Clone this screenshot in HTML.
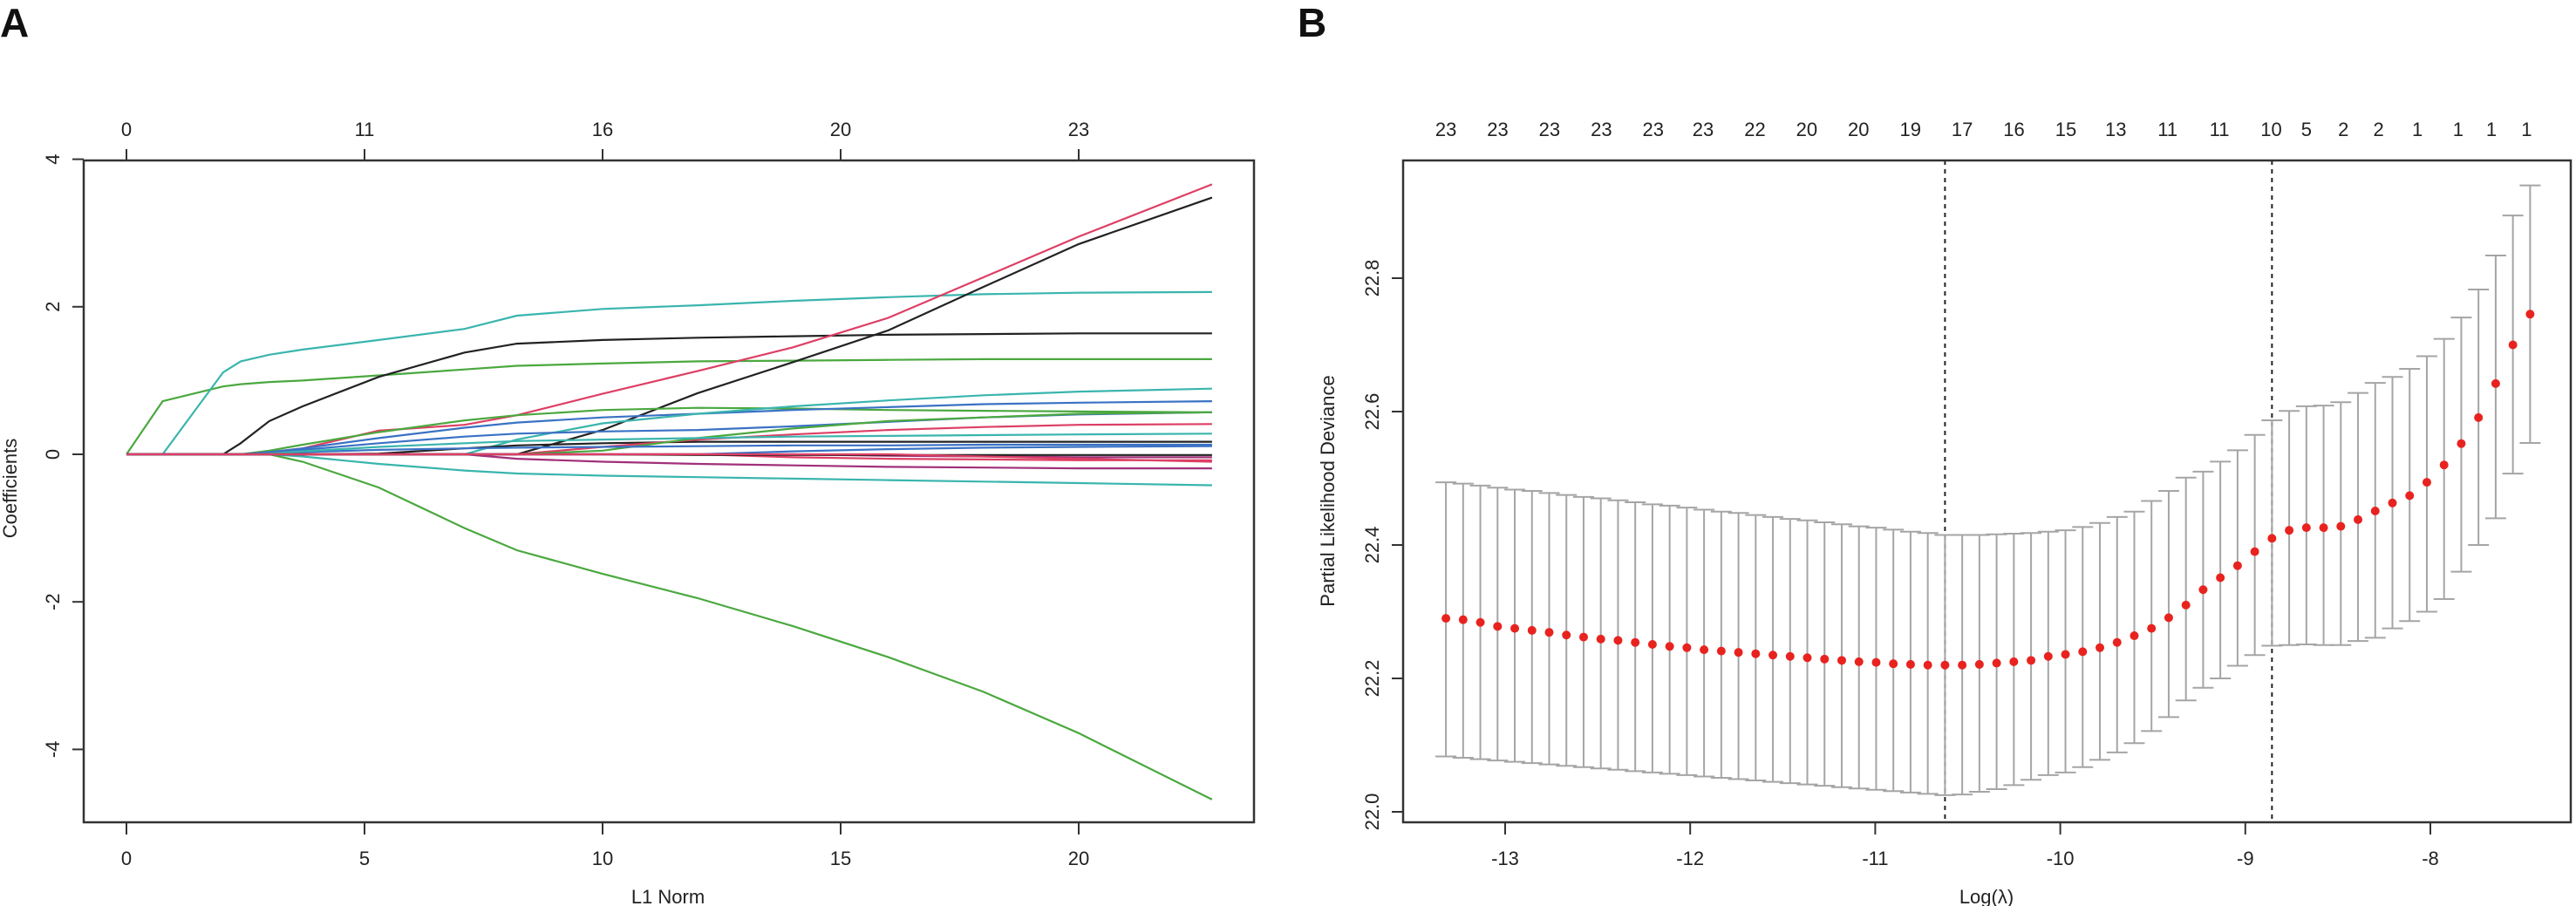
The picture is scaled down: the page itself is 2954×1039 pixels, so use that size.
<!DOCTYPE html>
<html><head><meta charset="utf-8">
<style>
html,body{margin:0;padding:0;background:#fff;}
svg{display:block;}
text{font-family:"Liberation Sans",Arial,sans-serif;fill:#222;}
</style></head>
<body>
<svg id="fig" width="2954" height="1039" viewBox="0 0 2954 1039" xmlns="http://www.w3.org/2000/svg">
<rect x="0" y="0" width="2954" height="1039" fill="#fff"/>
<text x="0" y="42" font-size="46" font-weight="bold" style="fill:#111">A</text>
<text x="1488" y="42" font-size="46" font-weight="bold" style="fill:#111">B</text>
<g id="panelA"></g>
<g id="panelB"></g>
</svg>
<script>
// ---------- Panel A data ----------
const knotsL1 = [0,0.76,2.03,2.4,3,3.7,5.3,7.1,8.2,10,12,14,16,18,20,22.8];
const xTicksA = [0,5,10,15,20];
const topTicksA = ["0","11","16","20","23"];
const yTicksA = [-4,-2,0,2,4];
const s1 = [0,0.72,0.92,0.95,0.98,1.0,1.07,1.15,1.2,1.23,1.26,1.27,1.28,1.29,1.29,1.29];
const s2 = [0,0,1.11,1.26,1.35,1.42,1.55,1.7,1.88,1.97,2.02,2.08,2.13,2.17,2.19,2.2];
const s3 = [0,0,0,0.15,0.45,0.65,1.05,1.38,1.5,1.55,1.58,1.6,1.62,1.63,1.64,1.64];
const s4 = [0,0,0,0,0,-0.1,-0.45,-1.0,-1.3,-1.62,-1.95,-2.33,-2.75,-3.22,-3.78,-4.68];
const s5 = [0,0,0,0,0.03,0.08,0.32,0.4,0.53,0.82,1.13,1.45,1.85,2.4,2.95,3.66];
const s6 = [0,0,0,0,0,0,0,0,0,0.33,0.83,1.25,1.68,2.27,2.85,3.48];
const s7 = [0,0,0,0,0.05,0.13,0.3,0.46,0.53,0.6,0.63,0.62,0.6,0.59,0.58,0.57];
const s8 = [0,0,0,0,0.03,0.08,0.22,0.36,0.43,0.5,0.55,0.6,0.64,0.68,0.7,0.72];
const s9 = [0,0,0,0,0,0,0,0,0.2,0.42,0.55,0.65,0.73,0.8,0.85,0.89];
const s10 = [0,0,0,0,0.02,0.06,0.15,0.24,0.28,0.31,0.33,0.38,0.44,0.5,0.54,0.57];
const s11 = [0,0,0,0,0,0,0.01,0.08,0.12,0.15,0.17,0.17,0.17,0.17,0.17,0.17];
const s12 = [0,0,0,0,0,0,0,0,0,0.1,0.2,0.27,0.33,0.37,0.4,0.41];
const s13 = [0,0,0,0,0,0,0,0,0,0.05,0.22,0.35,0.45,0.5,0.55,0.57];
const s14 = [0,0,0,0,0,0,0,0,-0.06,-0.1,-0.13,-0.15,-0.17,-0.18,-0.19,-0.19];
const s15 = [0,0,0,0,0,-0.03,-0.13,-0.22,-0.26,-0.29,-0.31,-0.33,-0.35,-0.37,-0.39,-0.42];
const s16 = [0,0,0,0,0.01,0.03,0.06,0.08,0.09,0.1,0.11,0.12,0.12,0.13,0.13,0.13];
const s17 = [0,0,0,0,0,0,0,0,0,0,0,0.04,0.07,0.09,0.1,0.11];
const s18 = [0,0,0,0,0.01,0.04,0.1,0.15,0.18,0.2,0.22,0.24,0.25,0.26,0.27,0.28];
const s19 = [0,0,0,0,0,0,0,0,0,0,0,-0.04,-0.06,-0.07,-0.08,-0.08];
const s20 = [0,0,0,0,0,0,0,0,0,0,0,0,-0.02,-0.03,-0.04,-0.04];
const s21 = [0,0,0,0,0,0,0,0,0,0,-0.01,-0.01,-0.01,-0.01,-0.01,-0.01];
const s22 = [0,0,0,0,0,0,0,0,0,0,0,0,0,-0.03,-0.06,-0.1];
const seriesA = [s1,s2,s3,s4,s5,s6,s7,s8,s9,s10,s11,s12,s13,s14,s15,s16,s17,s18,s19,s20,s21,s22];
const colorsA = ["#4ba83f","#3ab5ad","#222","#4ba83f","#dd3f64","#222","#4ba83f","#3a72c4","#3ab5ad","#3a72c4","#222","#dd3f64","#4ba83f","#a0307a","#3ab5ad","#3a72c4","#3a72c4","#3ab5ad","#dd3f64","#a0307a","#222","#dd3f64"];

// ---------- Panel B data ----------
const logLambda = [-13.32,-13.227,-13.134,-13.041,-12.948,-12.855,-12.762,-12.669,-12.576,-12.483,-12.39,-12.297,-12.204,-12.111,-12.018,-11.925,-11.832,-11.739,-11.646,-11.553,-11.46,-11.367,-11.274,-11.181,-11.088,-10.995,-10.902,-10.809,-10.716,-10.623,-10.53,-10.437,-10.344,-10.251,-10.158,-10.065,-9.972,-9.879,-9.786,-9.693,-9.6,-9.507,-9.414,-9.321,-9.228,-9.135,-9.042,-8.949,-8.856,-8.763,-8.67,-8.577,-8.484,-8.391,-8.298,-8.205,-8.112,-8.019,-7.926,-7.833,-7.74,-7.647,-7.554,-7.461];
const cvMean = [22.290,22.288,22.284,22.278,22.275,22.272,22.269,22.265,22.262,22.259,22.257,22.254,22.251,22.248,22.246,22.243,22.241,22.239,22.237,22.235,22.233,22.231,22.229,22.227,22.225,22.224,22.222,22.221,22.220,22.220,22.220,22.221,22.223,22.225,22.227,22.233,22.236,22.240,22.246,22.254,22.264,22.275,22.291,22.310,22.333,22.351,22.369,22.390,22.410,22.422,22.426,22.426,22.428,22.438,22.451,22.463,22.474,22.494,22.520,22.552,22.591,22.642,22.700,22.746];
const cvUp = [22.494,22.492,22.489,22.486,22.483,22.481,22.478,22.475,22.472,22.470,22.467,22.464,22.461,22.459,22.456,22.453,22.450,22.448,22.445,22.442,22.439,22.437,22.434,22.431,22.428,22.426,22.423,22.420,22.418,22.415,22.415,22.415,22.416,22.417,22.418,22.420,22.422,22.427,22.433,22.442,22.450,22.466,22.481,22.501,22.510,22.525,22.542,22.565,22.587,22.601,22.608,22.609,22.614,22.628,22.643,22.652,22.664,22.683,22.709,22.741,22.783,22.834,22.894,22.939];
const cvLo = [22.083,22.081,22.079,22.077,22.075,22.073,22.071,22.069,22.067,22.065,22.063,22.061,22.059,22.057,22.055,22.053,22.051,22.049,22.047,22.045,22.043,22.041,22.039,22.037,22.035,22.033,22.031,22.029,22.027,22.025,22.026,22.030,22.034,22.040,22.048,22.055,22.059,22.067,22.078,22.089,22.103,22.121,22.142,22.167,22.186,22.200,22.219,22.235,22.249,22.250,22.251,22.250,22.250,22.256,22.261,22.275,22.286,22.300,22.319,22.360,22.400,22.440,22.507,22.553];
const topLabelsB = ["23","23","23","23","23","23","22","20","20","19","17","16","15","13","11","11","10","5","2","2","1","1","1","1"];
const topPosB = [-13.32,-13.04,-12.76,-12.48,-12.20,-11.93,-11.65,-11.37,-11.09,-10.81,-10.53,-10.25,-9.97,-9.70,-9.42,-9.14,-8.86,-8.67,-8.47,-8.28,-8.07,-7.85,-7.67,-7.48];
const xTicksB = [-13,-12,-11,-10,-9,-8];
const yTicksB = [22.0,22.2,22.4,22.6,22.8];
const vlinesB = [-10.623,-8.856];

const NS = "http://www.w3.org/2000/svg";
function mk(parent, tag, attrs){ const e=document.createElementNS(NS,tag); for(const k in attrs) e.setAttribute(k,attrs[k]); parent.appendChild(e); return e; }

// ---------- Panel A ----------
(function(){
  const g = document.getElementById('panelA');
  const L=96,R=1438,T=184,B=943;
  const xA = v => 145 + 54.6*v;
  const yA = v => 521 - 84.6*v;
  seriesA.forEach((s,i)=>{
    const d = s.map((v,j)=>(j?'L':'M')+xA(knotsL1[j]).toFixed(1)+' '+yA(v).toFixed(1)).join(' ');
    const p = mk(g,'path',{d:d,fill:'none',stroke:colorsA[i],'stroke-width':2.2});
    
    
  });
  const box = mk(g,'rect',{x:L,y:T,width:R-L,height:B-T,fill:'none',stroke:'#333','stroke-width':2.5});
   
  xTicksA.forEach((v,i)=>{
    mk(g,'line',{x1:xA(v),x2:xA(v),y1:B,y2:B+14,stroke:'#333','stroke-width':2});
    const t=mk(g,'text',{x:xA(v),y:992,'font-size':22,'text-anchor':'middle'}); t.textContent=v;
     
    mk(g,'line',{x1:xA(v),x2:xA(v),y1:T,y2:T-13,stroke:'#333','stroke-width':2});
    const u=mk(g,'text',{x:xA(v),y:156,'font-size':22,'text-anchor':'middle'}); u.textContent=topTicksA[i];
     
  });
  yTicksA.forEach(v=>{
    mk(g,'line',{x1:L,x2:L-13,y1:yA(v),y2:yA(v),stroke:'#333','stroke-width':2});
    const t=mk(g,'text',{x:0,y:0,'font-size':22,'text-anchor':'middle',transform:`translate(68,${yA(v)}) rotate(-90)`}); t.textContent=v;
     
  });
  const xl=mk(g,'text',{x:766,y:1036,'font-size':22,'text-anchor':'middle'}); xl.textContent='L1 Norm';
   
  const yl=mk(g,'text',{x:0,y:0,'font-size':22,'text-anchor':'middle',transform:'translate(19,560) rotate(-90)'}); yl.textContent='Coefficients';
   
})();

// ---------- Panel B ----------
(function(){
  const g = document.getElementById('panelB');
  const L=1609,R=2948,T=184,B=943;
  const xB = v => 1726 + 212.2*(v+13);
  const yB = v => 931 - 765*(v-22);
  vlinesB.forEach(v=>{
    const l=mk(g,'line',{x1:xB(v),x2:xB(v),y1:T,y2:B,stroke:'#222','stroke-width':2,'stroke-dasharray':'5,5'});
     
  });
  logLambda.forEach((v,i)=>{
    const x=xB(v);
    const eb=mk(g,'g',{stroke:'#a5a5a5','stroke-width':2});
     
    mk(eb,'line',{x1:x,x2:x,y1:yB(cvUp[i]),y2:yB(cvLo[i])});
    mk(eb,'line',{x1:x-12,x2:x+12,y1:yB(cvUp[i]),y2:yB(cvUp[i])});
    mk(eb,'line',{x1:x-12,x2:x+12,y1:yB(cvLo[i]),y2:yB(cvLo[i])});
  });
  logLambda.forEach((v,i)=>{
    const c=mk(g,'circle',{cx:xB(v),cy:yB(cvMean[i]),r:5,fill:'#e8231f'});
     
  });
  const box = mk(g,'rect',{x:L,y:T,width:R-L,height:B-T,fill:'none',stroke:'#333','stroke-width':2.5});
   
  xTicksB.forEach(v=>{
    mk(g,'line',{x1:xB(v),x2:xB(v),y1:B,y2:B+14,stroke:'#333','stroke-width':2});
    const t=mk(g,'text',{x:xB(v),y:992,'font-size':22,'text-anchor':'middle'}); t.textContent=v;
     
  });
  topLabelsB.forEach((s,i)=>{
    const t=mk(g,'text',{x:xB(topPosB[i]),y:156,'font-size':22,'text-anchor':'middle'}); t.textContent=s;
     
  });
  yTicksB.forEach(v=>{
    mk(g,'line',{x1:L,x2:L-13,y1:yB(v),y2:yB(v),stroke:'#333','stroke-width':2});
    const t=mk(g,'text',{x:0,y:0,'font-size':22,'text-anchor':'middle',transform:`translate(1581,${yB(v)}) rotate(-90)`}); t.textContent=v.toFixed(1);
     
  });
  const xl=mk(g,'text',{x:2278,y:1036,'font-size':22,'text-anchor':'middle'}); xl.textContent='Log(λ)';
   
  const yl=mk(g,'text',{x:0,y:0,'font-size':22,'text-anchor':'middle',transform:'translate(1530,563) rotate(-90)'}); yl.textContent='Partial Likelihood Deviance';
   
})();
</script>
</body></html>
